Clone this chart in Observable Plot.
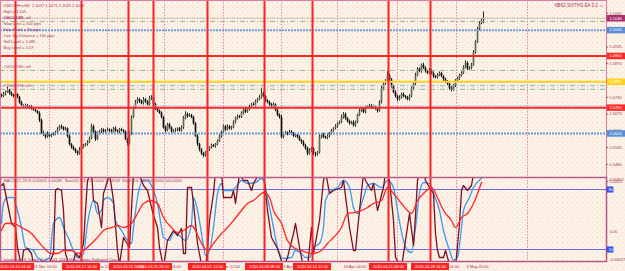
<!DOCTYPE html>
<html><head><meta charset="utf-8">
<script src="https://cdn.jsdelivr.net/npm/d3@7"></script>
<script src="https://cdn.jsdelivr.net/npm/@observablehq/plot@0.6"></script>
<style>
html,body{margin:0;padding:0;background:#fcf2e5;}
#wrap{position:relative;width:625px;height:271px;overflow:hidden;
 background-color:#fcf2e5;
 background-image:radial-gradient(circle, rgba(226,140,155,0.38) 0.55px, transparent 0.85px),
                  radial-gradient(circle, rgba(226,140,155,0.28) 0.55px, transparent 0.85px);
 background-size:5px 5px, 5px 5px;
 background-position:0 0, 2.5px 2.5px;}
#wrap svg{position:absolute;left:0;}
</style></head><body><div id="wrap"></div>
<script>
// ---------- DATA ----------
const firstOpen = 1.0747;
const closes = [
1.0743,1.0751,1.0759,1.0767,1.0755,1.0747,1.0743,1.0751,1.0739,1.0719,1.0707,1.0703,1.0707,1.0699,1.0703,1.0695,1.0690,1.0686,1.0678,1.0650,
1.0602,1.0594,1.0585,1.0598,1.0589,1.0594,1.0598,1.0602,1.0614,1.0626,1.0622,1.0614,1.0618,1.0589,1.0557,1.0545,1.0537,1.0529,1.0521,1.0537,
1.0545,1.0553,1.0557,1.0565,1.0581,1.0626,1.0606,1.0577,1.0598,1.0606,1.0614,1.0606,1.0610,1.0614,1.0610,1.0606,1.0618,1.0610,1.0606,1.0614,
1.0610,1.0606,1.0577,1.0561,1.0598,1.0662,1.0699,1.0719,1.0731,1.0723,1.0715,1.0731,1.0723,1.0711,1.0735,1.0739,1.0711,1.0695,1.0686,1.0678,
1.0662,1.0622,1.0610,1.0634,1.0622,1.0606,1.0610,1.0614,1.0618,1.0610,1.0622,1.0658,1.0674,1.0666,1.0670,1.0662,1.0638,1.0589,1.0557,1.0537,
1.0521,1.0513,1.0525,1.0537,1.0545,1.0553,1.0549,1.0557,1.0569,1.0589,1.0602,1.0626,1.0614,1.0626,1.0618,1.0622,1.0642,1.0658,1.0666,1.0662,
1.0678,1.0690,1.0682,1.0695,1.0703,1.0711,1.0707,1.0723,1.0731,1.0739,1.0755,1.0743,1.0727,1.0719,1.0711,1.0703,1.0711,1.0690,1.0670,1.0662,
1.0585,1.0598,1.0602,1.0598,1.0606,1.0598,1.0589,1.0594,1.0585,1.0573,1.0565,1.0553,1.0541,1.0521,1.0533,1.0541,1.0521,1.0517,1.0525,1.0585,
1.0594,1.0585,1.0581,1.0589,1.0598,1.0610,1.0618,1.0626,1.0638,1.0642,1.0662,1.0674,1.0658,1.0646,1.0638,1.0642,1.0630,1.0642,1.0670,1.0686,
1.0695,1.0682,1.0699,1.0703,1.0707,1.0699,1.0703,1.0695,1.0686,1.0719,1.0771,1.0791,1.0800,1.0824,1.0808,1.0783,1.0759,1.0743,1.0731,1.0739,
1.0751,1.0743,1.0739,1.0731,1.0743,1.0771,1.0791,1.0824,1.0848,1.0840,1.0864,1.0852,1.0840,1.0832,1.0844,1.0832,1.0820,1.0816,1.0824,1.0832,
1.0820,1.0808,1.0800,1.0791,1.0775,1.0767,1.0783,1.0804,1.0812,1.0824,1.0832,1.0856,1.0872,1.0848,1.0852,1.0864,1.0913,1.0953,1.1002,1.1026,
1.1037,1.1046];
// wick lengths in pips above / below the body
const wickUp = [
6,8,5,12,4,6,5,9,3,5,6,4,7,5,4,6,5,4,3,6,
5,7,4,8,6,5,4,6,9,5,7,4,6,3,5,4,6,5,4,8,
6,5,4,7,5,10,6,4,8,5,6,4,5,7,4,6,5,8,4,5,
6,5,4,5,8,6,5,9,7,5,6,8,5,4,9,7,5,6,4,5,
6,4,7,5,6,4,5,6,4,5,7,8,10,5,6,4,5,4,6,5,
4,6,5,7,4,6,5,4,6,5,7,6,5,8,4,6,7,5,6,4,
6,5,7,4,6,5,8,6,5,7,20,6,5,4,6,5,7,4,5,6,
8,5,6,4,7,5,6,4,5,6,4,7,5,6,8,5,4,6,5,9,
5,6,4,7,5,6,4,8,5,6,9,7,5,4,6,5,7,6,5,8,
6,5,7,4,6,5,7,5,4,8,10,7,8,16,6,5,4,6,5,7,
5,6,4,5,7,8,6,9,7,6,5,8,6,5,7,4,6,5,7,6,
5,4,6,5,4,6,7,5,6,5,7,6,9,5,6,7,8,6,9,7,
8,25];
const wickDn = [
5,4,6,3,7,5,6,4,5,6,4,7,5,4,6,5,4,6,5,8,
6,5,7,4,6,5,4,7,5,4,6,5,4,7,5,6,4,7,8,5,
6,4,5,6,4,5,7,8,5,4,6,5,7,4,6,5,4,6,5,7,
4,6,5,9,6,5,4,6,5,7,4,5,6,4,5,7,4,6,5,4,
6,5,7,4,6,5,4,6,7,5,4,6,5,7,4,5,6,4,7,8,
6,7,5,4,6,5,4,6,5,4,7,5,6,4,5,6,4,5,6,5,
4,6,5,4,7,5,4,6,5,4,6,5,7,4,6,5,4,6,5,7,
6,5,4,7,5,6,4,5,6,4,7,5,6,8,5,6,7,9,5,4,
6,5,4,5,6,4,5,4,6,5,4,6,7,5,6,4,5,6,4,5,
4,5,6,4,5,6,4,5,7,4,5,6,5,4,6,7,5,6,8,5,
6,5,7,5,6,4,5,6,4,5,7,4,6,5,4,6,7,5,6,4,
5,6,7,5,8,6,4,5,4,6,5,4,5,6,4,5,4,6,5,4,
5,12];

// indicator lines: [bar index, value]
const stochFast = [[0,84],[1,86],[5,46],[7,42],[8,22],[10,3],[11,19],[13,21],[15,16],[16,5],[20,2],[23,3],[26,16],[27,79],[28,81],[30,79],[31,59],[32,16],[34,3],[36,8],[37,16],[39,12],[41,26],[42,59],[43,89],[45,97],[46,69],[48,66],[50,42],[51,76],[52,82],[54,96],[56,69],[58,19],[59,5],[61,32],[64,22],[66,98],[68,100],[71,84],[73,79],[76,54],[78,42],[79,22],[81,2],[83,29],[86,39],[88,34],[90,41],[91,16],[92,16],[93,82],[95,82],[96,66],[98,26],[100,5],[102,2],[103,19],[104,49],[106,76],[107,98],[110,97],[111,72],[113,72],[115,72],[116,79],[117,66],[119,96],[121,89],[123,89],[125,79],[126,86],[128,93],[131,98],[133,59],[135,32],[138,21],[141,2],[143,12],[146,36],[147,46],[149,22],[151,2],[153,2],[155,42],[156,16],[159,49],[161,89],[162,98],[164,76],[166,79],[170,82],[171,89],[174,42],[176,19],[177,19],[179,59],[181,96],[182,89],[185,79],[186,86],[188,59],[191,82],[192,97],[194,89],[196,49],[197,12],[200,2],[202,29],[204,56],[206,24],[207,54],[208,89],[209,97],[211,100],[212,89],[214,82],[216,76],[217,36],[218,19],[219,12],[221,12],[222,19],[224,5],[226,2],[227,2],[229,46],[230,79],[231,84],[233,79],[235,84],[236,96],[239,100],[240,100]];
const stochSlow = [[0,46],[1,66],[3,72],[6,72],[7,66],[10,42],[12,22],[16,19],[18,12],[21,9],[24,12],[26,46],[29,52],[31,42],[34,29],[36,19],[38,12],[41,16],[43,46],[46,69],[48,56],[50,59],[51,69],[53,72],[56,66],[57,49],[60,39],[62,32],[65,26],[66,42],[68,72],[71,89],[73,89],[76,79],[78,66],[80,42],[81,32],[84,29],[86,37],[90,32],[92,29],[95,46],[96,72],[98,59],[101,24],[102,14],[104,19],[106,42],[108,76],[110,86],[111,79],[115,79],[117,82],[120,89],[123,86],[127,87],[130,91],[131,89],[133,72],[136,42],[138,22],[141,11],[145,12],[147,19],[150,16],[152,12],[154,12],[156,22],[159,26],[161,42],[162,69],[165,79],[168,82],[171,89],[174,82],[176,62],[178,56],[181,72],[183,84],[186,86],[190,82],[193,89],[196,82],[198,59],[201,29],[203,19],[205,17],[207,42],[209,76],[211,87],[214,86],[216,76],[219,59],[221,39],[224,19],[226,9],[228,12],[230,42],[231,59],[234,72],[236,82],[240,91]];
const macdMain = [[0,-0.00019],[2,0.00089],[6,0.00089],[10,0.00027],[15,-0.00066],[18,-0.00174],[21,-0.00282],[25,-0.00375],[28,-0.00375],[31,-0.00329],[35,-0.00329],[38,-0.00375],[41,-0.00329],[45,-0.0022],[48,-0.00128],[51,-0.00019],[55,0.00027],[58,0.00058],[61,0.00027],[65,0.00089],[68,0.00244],[71,0.00399],[75,0.00445],[78,0.00399],[81,0.00182],[85,0.00027],[88,-0.0005],[91,-0.00019],[95,0.00058],[97,-0.00019],[100,-0.0022],[103,-0.00329],[106,-0.0022],[110,-0.00066],[113,0.00027],[116,0.00136],[120,0.0029],[123,0.00399],[126,0.00445],[130,0.00553],[131,0.00569],[134,0.00491],[136,0.0029],[140,0.00089],[143,-0.00174],[146,-0.00282],[150,-0.00329],[153,-0.0036],[156,-0.00375],[160,-0.00329],[163,-0.0022],[166,-0.00128],[170,0.00027],[173,0.00244],[176,0.00259],[180,0.0029],[183,0.00337],[186,0.00399],[190,0.00445],[193,0.00646],[196,0.00553],[200,0.00399],[203,0.0029],[205,0.00244],[208,0.00445],[211,0.00553],[215,0.00646],[218,0.00491],[221,0.0029],[225,0.00136],[227,0.00027],[230,0.00182],[233,0.00244],[236,0.00399],[240,0.00724]];

// vertical objects (bar index) and labels
const redLineBars = [7, 40, 63.5, 76, 103, 131.5, 155.5, 193.5, 214.5];
const redLineLabels = ["2010.03.10 04:00","2010.03.17 16:00","2010.03.23 16:00","2010.03.25 20:00","2010.04.01 12:00","2010.04.08 08:00","2010.04.14 12:00","2010.04.21 08:00","2010.04.28 16:00"];
const gridBars = [24, 53, 81.5, 111, 140, 168, 198, 227.5, 263];
const timeLabelBars = [16, 45, 78, 109, 141, 171, 217.5, 232.5];
const timeLabels = ["11 Mar 16:00","18 Mar 12:00","26 Mar 04:00","2 Apr 12:00","9 Apr 20:00","19 Apr 04:00","29 Apr 04:00","3 May 20:00"];

// price levels
const priceTicks = [1.1065,1.1000,1.0935,1.0870,1.0805,1.0740,1.0675,1.0610,1.0545,1.0480,1.0415];
const bidPrice = 1.1046;
const levelPrices = [1.1000, 1.0900, 1.0800, 1.0700, 1.0600];
const levelColors = ["#6d9be0","#ff2626","#ffd21a","#ff2626","#6d9be0"];
const levelDash = ["2,1","none","none","none","2,1"];
const orderPrices = [1.1034, 1.0844, 1.0771];
const orderLabels = ["#26226086 sell","#26247086 sell","#26247474 sell"];
const blueDashPrice = 1.0785;
const lightDotPrice = 1.0707;
const boxPrices = [1.1046, 1.1000, 1.0900, 1.0800, 1.0700, 1.0600];
const boxColors = ["#a8306e","#5a8ed6","#ff2a2a","#ffd21a","#ff2a2a","#5a8ed6"];

const stochLevels = [80, 20];
const macdTicks = [0.00801, 0, -0.00437];

const infoLines = ["USDCHFm,H4  1.1037 1.1071 1.1025 1.1046","High = 1.105","Low = 1.05","Stop Loss = 150 pips","Take Profit = 70 pips","Line Stp Distance = 100 pips","Sell Level = 1.085","Buy Level = 1.07"];
const eaName = "NB62 SIXTHS EA 3.2 \u263A";
const subTitle = "MACD(12,26,9) 0.00601 0.00280  Stoch(5,3,3) 100.0000 99.4558  Stoch(14,3,3) 100.0000 100.0000";
const copyright = "Interbank FX Trader 4, \u00A9 2001-2010 MetaQuotes Software Corp.";

// ---------- BUILD ----------
const pip = 0.0001;
const bars = closes.map((c, i) => {
  const o = i ? closes[i - 1] : firstOpen;
  return {i, o, c, h: Math.max(o, c) + wickUp[i] * pip, l: Math.min(o, c) - wickDn[i] * pip};
});

const wrap = document.getElementById("wrap");
const FONT = "'Liberation Sans', Arial, sans-serif";
const TXT = "#a2325f";
const XD = {domain: [-0.5, 302.5], axis: null};
const base = {width: 625, marginLeft: 0, marginRight: 19, marginTop: 0, marginBottom: 0,
  style: {background: "transparent", fontFamily: FONT, overflow: "visible"}};
const RIGHT = 302.5;

function place(svg, top) { svg.style.position = "absolute"; svg.style.top = top + "px"; svg.style.left = "0px"; wrap.appendChild(svg); }

const mainPlot = Plot.plot({
  ...base, height: 177,
  x: XD, y: {domain: [1.04296, 1.11147], axis: null},
  marks: [
    Plot.ruleX(gridBars, {x: d => d, stroke: "#e46a98", strokeWidth: 0.8, strokeDasharray: "1.5,1.5"}),
    Plot.ruleX(bars, {x: "i", y1: "l", y2: "h", stroke: "#262626", strokeWidth: 1}),
    Plot.ruleX(bars, {x: "i", y1: "o", y2: "c", stroke: d => d.c >= d.o ? "#5f6c52" : "#0d0d0d", strokeWidth: 1.7}),
    Plot.ruleY([bidPrice], {y: d => d, stroke: "#cbbfb6", strokeWidth: 1}),
    Plot.ruleY(orderPrices, {y: d => d, stroke: "#98b58c", strokeWidth: 1, strokeDasharray: "5,2,1,2"}),
    Plot.ruleY([blueDashPrice], {y: d => d, stroke: "#86aee4", strokeWidth: 1, strokeDasharray: "5,2,1,2"}),
    Plot.ruleY([lightDotPrice], {y: d => d, stroke: "#a9c9ec", strokeWidth: 1.3, strokeDasharray: "1.5,1"}),
    ...levelPrices.map((p, k) => Plot.ruleY([p], {y: d => d, stroke: levelColors[k], strokeWidth: 2, strokeDasharray: levelDash[k]})),
    Plot.ruleX(redLineBars, {x: d => d, stroke: "#ff2020", strokeWidth: 2}),
    Plot.frame({stroke: "#dc7aa6", strokeWidth: 1}),
    Plot.ruleY(priceTicks, {y: d => d, x1: RIGHT, x2: RIGHT + 1.2, stroke: TXT, strokeWidth: 0.8}),
    Plot.text(priceTicks, {y: d => d, text: d => d.toFixed(4), frameAnchor: "right", textAnchor: "start", dx: 3, fill: TXT, fontSize: 4}),
    Plot.ruleY(boxPrices, {y: d => d, x1: RIGHT + 0.3, x2: RIGHT + 9.6, stroke: (d, i) => boxColors[i], strokeWidth: 6.5}),
    Plot.text(boxPrices, {y: d => d, text: d => d.toFixed(4), frameAnchor: "right", textAnchor: "start", dx: 3, fill: "white", fontSize: 4}),
    Plot.text([infoLines.join("\n")], {text: d => d, frameAnchor: "top-left", textAnchor: "start", lineAnchor: "top", lineHeight: 1.5, dx: 3, dy: 2, fill: TXT, fontSize: 4}),
    Plot.text(orderPrices, {y: d => d, text: (d, i) => orderLabels[i], frameAnchor: "left", textAnchor: "start", dx: 3, dy: -3.5, fill: "#b5407a", fontSize: 4}),
    Plot.text([eaName], {text: d => d, frameAnchor: "top-right", textAnchor: "end", lineAnchor: "top", dx: -3, dy: 3, fill: TXT, fontSize: 4.5})
  ]
});
place(mainPlot, 0);

const stochPlot = Plot.plot({
  ...base, height: 84,
  x: XD, y: {domain: [8, 92], axis: null},
  marks: [
    Plot.ruleX(gridBars, {x: d => d, stroke: "#e46a98", strokeWidth: 0.8, strokeDasharray: "1.5,1.5"}),
    Plot.ruleY(stochLevels, {y: d => d, stroke: "#6b6bf0", strokeWidth: 1}),
    Plot.line(stochSlow, {x: d => d[0], y: d => d[1], stroke: "#3a9bf2", strokeWidth: 1.3, curve: "monotone-x", clip: true}),
    Plot.line(stochFast, {x: d => d[0], y: d => d[1], stroke: "#7e0f1e", strokeWidth: 1.3, clip: true}),
    Plot.ruleX(redLineBars, {x: d => d, stroke: "#ff2020", strokeWidth: 2}),
    Plot.frame({stroke: "#b5588a", strokeWidth: 1.5}),
    Plot.text([subTitle], {text: d => d, frameAnchor: "top-left", textAnchor: "start", lineAnchor: "top", dx: 3, dy: 1.5, fill: TXT, fontSize: 4}),
    Plot.text([copyright], {text: d => d, frameAnchor: "bottom-left", textAnchor: "start", lineAnchor: "bottom", dx: 3, dy: -1, fill: TXT, fontSize: 4}),
    Plot.ruleY(stochLevels, {y: d => d, x1: RIGHT + 0.4, x2: RIGHT + 3.7, stroke: "#2f4ff0", strokeWidth: 6}),
    Plot.text(stochLevels, {y: d => d, x: RIGHT + 2.05, text: d => String(d), fill: "white", fontSize: 4})
  ]
});
place(stochPlot, 177);

const macdPlot = Plot.plot({
  ...base, height: 84, marginBottom: 4,
  x: XD, y: {domain: [-0.00437, 0.00801], axis: null},
  marks: [
    Plot.line(macdMain, {x: d => d[0], y: d => d[1], stroke: "#ff2626", strokeWidth: 1.3, curve: "monotone-x"}),
    Plot.text(macdTicks, {y: d => d, text: d => d === 0 ? "0.00" : d.toFixed(5), frameAnchor: "right", textAnchor: "start", dx: 3, dy: 2.5, fill: TXT, fontSize: 4})
  ]
});
place(macdPlot, 177);

const timePlot = Plot.plot({
  ...base, height: 10,
  x: XD, y: {domain: [0, 1], axis: null},
  marks: [
    Plot.text(timeLabels, {x: (d, i) => timeLabelBars[i], text: d => d, frameAnchor: "middle", textAnchor: "start", fill: TXT, fontSize: 4}),
    Plot.ruleY(redLineBars, {y: () => 0.5, x1: d => d - 9.5, x2: d => d + 9.5, stroke: "#ff2020", strokeWidth: 7}),
    Plot.text(redLineBars, {x: d => d, text: (d, i) => redLineLabels[i], frameAnchor: "middle", fill: "white", fontSize: 4})
  ]
});
place(timePlot, 261);
</script></body></html>
